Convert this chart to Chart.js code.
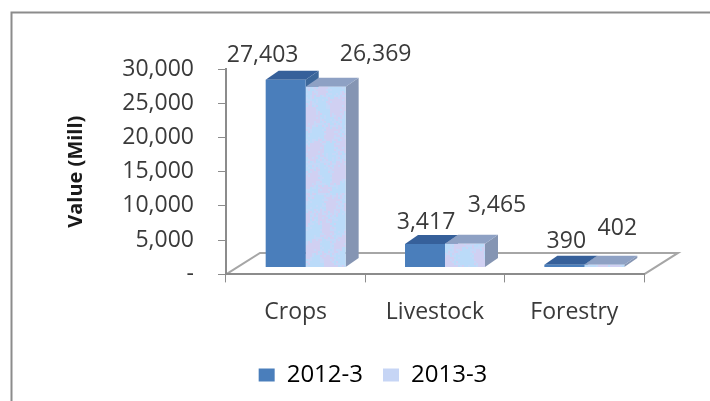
<!DOCTYPE html>
<html>
<head>
<meta charset="utf-8">
<style>
  html, body { margin: 0; padding: 0; background: #fff; }
  #wrap { width: 710px; height: 401px; }
</style>
<script src="https://cdn.jsdelivr.net/npm/chart.js@4"></script>
</head>
<body>
<div id="wrap"><canvas id="chart" width="710" height="401"></canvas></div>
<script>
const categories = ["Crops", "Livestock", "Forestry"];
const seriesNames = ["2012-3", "2013-3"];
const values2012 = [27403, 3417, 390];
const values2013 = [26369, 3465, 402];
const yTicks = [0, 5000, 10000, 15000, 20000, 25000, 30000];

const FONT = '"Open Sans", sans-serif';
const TEXT = "#3a3a3a";
const AXIS = "#8c8c8c";
// the bars stand a bit inside the floor, depth goes up and to the right
const shiftX = 10, shiftY = -7;
const depthX = 13, depthY = -9;
const floorX = 34, floorY = -21.5;
// hand placed labels, offset from top centre of each bar
const labelNudge = [
  [[-23, -24], [1, -22], [2, -23]],
  [[50, -32], [32, -38], [13, -36]]
];

function mottled() {
  const c = document.createElement("canvas");
  c.width = 120; c.height = 200;
  const g = c.getContext("2d");
  g.fillStyle = "#c4d8f8";
  g.fillRect(0, 0, 120, 200);
  for (let y = 0; y < 200; y += 2) {
    for (let x = 0; x < 120; x += 2) {
      const a = 0.7 * Math.sin(x * 0.23 + y * 0.11 + 1.3 * Math.sin(y * 0.13)) +
        0.7 * Math.sin(y * 0.19 - x * 0.15 + 1.1 * Math.sin(x * 0.21)) +
        0.8 * Math.sin(x * 1.7 + y * 2.3) * Math.sin(x * 0.6 - y * 1.1);
      if (a > 0.2) g.fillStyle = "rgba(224,200,236,0.45)";
      else if (a < -0.3) g.fillStyle = "rgba(178,222,250,0.5)";
      else continue;
      g.fillRect(x, y, 2, 2);
    }
  }
  return document.getElementById("chart").getContext("2d").createPattern(c, "repeat");
}

const frontColors = ["#4a7ebb", mottled()];
const sideColors = ["#3c679a", "#8595b3"];
const topColors = ["#36609a", "#8ea1c4"];

function poly(ctx, pts, fill) {
  ctx.beginPath();
  pts.forEach((p, i) => i ? ctx.lineTo(p[0], p[1]) : ctx.moveTo(p[0], p[1]));
  ctx.closePath();
  ctx.fillStyle = fill;
  ctx.fill();
}

const scene3d = {
  id: "scene3d",
  afterLayout(chart) {
    // legend sits right of the page centre in the original
    chart.legend.left += 19;
    chart.legend.right += 19;
  },
  beforeDraw(chart) {
    const { ctx, chartArea: a } = chart;
    ctx.save();
    ctx.fillStyle = "#fff";
    ctx.fillRect(0, 0, chart.width, chart.height);
    // outer frame, cut by the picture at right and bottom
    ctx.strokeStyle = "#8c8c8c";
    ctx.lineWidth = 2;
    ctx.beginPath();
    ctx.moveTo(11.5, 401);
    ctx.lineTo(11.5, 12.5);
    ctx.lineTo(710, 12.5);
    ctx.stroke();
    // floor outline
    ctx.strokeStyle = "#a6a6a6";
    ctx.beginPath();
    ctx.moveTo(a.left, a.bottom);
    ctx.lineTo(a.left + floorX, a.bottom + floorY);
    ctx.lineTo(a.right + floorX, a.bottom + floorY);
    ctx.lineTo(a.right, a.bottom);
    ctx.stroke();
    ctx.restore();
  },
  beforeDatasetsDraw(chart) {
    const { ctx } = chart;
    ctx.save();
    ctx.translate(shiftX, shiftY);
    // side and top faces, from the bars the library laid out
    categories.forEach((_, i) => {
      chart.data.datasets.forEach((_, d) => {
        const b = chart.getDatasetMeta(d).data[i];
        const l = b.x - b.width / 2, r = b.x + b.width / 2;
        poly(ctx, [[r, b.y], [r + depthX, b.y + depthY], [r + depthX, b.base + depthY], [r, b.base]], sideColors[d]);
        poly(ctx, [[l, b.y], [l + depthX, b.y + depthY], [r + depthX, b.y + depthY], [r, b.y]], topColors[d]);
      });
    });
  },
  afterDatasetsDraw(chart) {
    const { ctx } = chart;
    ctx.restore();
    ctx.save();
    ctx.font = "23px " + FONT;
    ctx.fillStyle = TEXT;
    ctx.textAlign = "center";
    ctx.textBaseline = "middle";
    chart.data.datasets.forEach((ds, d) => {
      chart.getDatasetMeta(d).data.forEach((b, i) => {
        const [nx, ny] = labelNudge[d][i];
        ctx.fillText(ds.data[i].toLocaleString("en-US"), b.x + shiftX + nx, b.y + shiftY + ny);
      });
    });
    ctx.restore();
  }
};

new Chart(document.getElementById("chart"), {
  type: "bar",
  data: {
    labels: categories,
    datasets: [
      { label: seriesNames[0], data: values2012, backgroundColor: frontColors[0] },
      { label: seriesNames[1], data: values2013, backgroundColor: frontColors[1] }
    ]
  },
  options: {
    responsive: false,
    animation: false,
    devicePixelRatio: 1,
    barPercentage: 1,
    categoryPercentage: 0.574,
    layout: { padding: { left: 64, right: 66, top: 69, bottom: 4 } },
    scales: {
      x: {
        afterFit: (axis) => { axis.height += 1; },
        grid: { drawOnChartArea: false, color: AXIS, tickLength: 8, tickColor: AXIS },
        border: { color: AXIS, width: 2 },
        ticks: { color: TEXT, font: { family: FONT, size: 23 }, padding: 16 }
      },
      y: {
        min: 0,
        max: 30000,
        afterBuildTicks: (axis) => { axis.ticks = yTicks.map((v) => ({ value: v })); },
        afterFit: (axis) => { axis.width = 162; },
        grid: { drawOnChartArea: false, color: AXIS, tickLength: 8, tickColor: AXIS },
        border: { color: AXIS, width: 2 },
        title: {
          display: true,
          text: "Value (Mill)",
          color: "#1a1a1a",
          font: { family: FONT, size: 20, weight: "bold" },
          padding: { top: 0, bottom: 0 }
        },
        ticks: {
          color: TEXT,
          font: { family: FONT, size: 23 },
          padding: 24,
          callback: (v) => v === 0 ? "-" : v.toLocaleString("en-US")
        }
      }
    },
    plugins: {
      legend: {
        position: "bottom",
        labels: {
          color: TEXT,
          font: { family: FONT, size: 24 },
          boxWidth: 16,
          boxHeight: 13,
          padding: 20,
          generateLabels: () => seriesNames.map((n, i) => ({
            text: n,
            fillStyle: ["#4a7ebb", "#c6d5f5"][i],
            strokeStyle: "transparent",
            lineWidth: 0,
            datasetIndex: i
          }))
        }
      },
      tooltip: { enabled: false }
    }
  },
  plugins: [scene3d]
});
</script>
</body>
</html>
